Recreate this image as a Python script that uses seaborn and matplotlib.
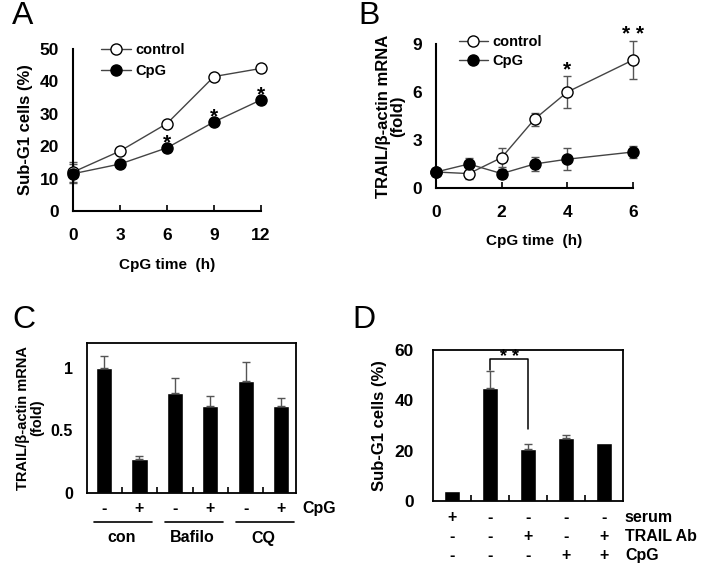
import numpy as np
import pandas as pd
import matplotlib
matplotlib.use("Agg")
import matplotlib.pyplot as plt
import matplotlib.transforms as mtransforms
import seaborn as sns

sns.set_style("white")
plt.rcParams['font.family'] = ['Liberation Sans', 'DejaVu Sans']
plt.rcParams['font.weight'] = 'bold'
plt.rcParams['axes.labelweight'] = 'bold'
for k in ['text.color', 'axes.labelcolor', 'xtick.color', 'ytick.color']:
    plt.rcParams[k] = 'black'

# ---------------- data ----------------
# Panel A
a_time = [0, 3, 6, 9, 12]
a_control = [12.0, 18.5, 27.0, 41.5, 44.0]
a_control_err = [3.0, 0.8, 0.8, 0.8, 1.2]
a_cpg = [11.5, 14.5, 19.5, 27.5, 34.3]
a_cpg_err = [3.0, 0.8, 1.2, 1.0, 1.0]
a_star_times = [6, 9, 12]
a_star_text = ['*', '*', '*']

# Panel B
b_time = [0, 1, 2, 3, 4, 6]
b_control = [1.0, 0.9, 1.9, 4.3, 6.0, 8.0]
b_control_err = [0.1, 0.35, 0.6, 0.4, 1.0, 1.2]
b_cpg = [1.0, 1.5, 0.9, 1.5, 1.8, 2.25]
b_cpg_err = [0.1, 0.4, 0.3, 0.45, 0.7, 0.4]
b_star_times = [4, 6]
b_star_text = ['*', '* *']

# Panel C
c_labels = ['con-', 'con+', 'Bafilo-', 'Bafilo+', 'CQ-', 'CQ+']
c_values = [1.0, 0.27, 0.8, 0.7, 0.9, 0.7]
c_err = [0.1, 0.03, 0.12, 0.08, 0.15, 0.06]
c_cpg_signs = ['-', '+', '-', '+', '-', '+']
c_groups = ['con', 'Bafilo', 'CQ']

# Panel D
d_labels = ['g1', 'g2', 'g3', 'g4', 'g5']
d_values = [4.0, 45.0, 20.5, 25.0, 23.0]
d_err = [0.0, 6.5, 2.0, 1.2, 0.0]
d_serum = ['+', '-', '-', '-', '-']
d_trail = ['-', '-', '+', '-', '+']
d_cpg = ['-', '-', '-', '+', '+']
d_row_names = ['serum', 'TRAIL Ab', 'CpG']

# ---------------- figure ----------------
fig = plt.figure(figsize=(7.08, 5.65), dpi=100)
W, H = 708, 565


def add_ax(x0, x1, y_top, y_bot):
    return fig.add_axes([x0 / W, 1 - y_bot / H, (x1 - x0) / W, (y_bot - y_top) / H])


LINE_C = '#444444'
ERR_C = '#555555'
TICK_FS = 12.5
LAB_FS = 11
YLAB_FS = 12
LEG_FS = 10.5


def line_panel(ax, t, ctrl, ctrl_err, cpg, cpg_err):
    df = pd.DataFrame({'t': t + t,
                       'v': ctrl + cpg,
                       'grp': ['control'] * len(t) + ['CpG'] * len(t)})
    for e_vals, vals in ((ctrl_err, ctrl), (cpg_err, cpg)):
        ax.errorbar(t, vals, yerr=e_vals, fmt='none', ecolor=ERR_C,
                    elinewidth=1, capsize=3, capthick=1, zorder=2, clip_on=False)
    sns.lineplot(data=df[df.grp == 'control'], x='t', y='v', ax=ax, color=LINE_C,
                 lw=1, marker='o', markersize=8, markerfacecolor='white',
                 markeredgecolor='black', markeredgewidth=1, label='control',
                 zorder=3, clip_on=False)
    sns.lineplot(data=df[df.grp == 'CpG'], x='t', y='v', ax=ax, color=LINE_C,
                 lw=1, marker='o', markersize=8, markerfacecolor='black',
                 markeredgecolor='black', markeredgewidth=1, label='CpG',
                 zorder=4, clip_on=False)
    for s in ['top', 'right']:
        ax.spines[s].set_visible(False)
    for s in ['left', 'bottom']:
        ax.spines[s].set_color('black')
        ax.spines[s].set_linewidth(1.5)
    ax.tick_params(axis='x', direction='in', length=4, width=1.2, pad=12,
                   labelsize=TICK_FS, bottom=True)
    ax.tick_params(axis='y', length=0, labelsize=TICK_FS, left=True)


# ---- Panel A ----
axA = add_ax(73, 261, 49, 211)
line_panel(axA, a_time, a_control, a_control_err, a_cpg, a_cpg_err)
axA.set_xlim(0, 12)
axA.set_ylim(0, 50)
axA.set_xticks(a_time)
axA.set_yticks([0, 10, 20, 30, 40, 50])
axA.tick_params(axis='y', pad=10)
axA.set_xlabel('CpG time  (h)', fontsize=LAB_FS, labelpad=11)
axA.set_ylabel('Sub-G1 cells (%)', fontsize=YLAB_FS, labelpad=5)
for tt, txt in zip(a_star_times, a_star_text):
    yv = a_cpg[a_time.index(tt)]
    axA.text(tt, yv - 0.3, txt, ha='center', va='baseline', fontsize=15)
axA.legend(loc='upper left', bbox_to_anchor=(0.12, 1.075), frameon=False,
           fontsize=LEG_FS, handlelength=2.0, handletextpad=0.3,
           labelspacing=0.5, borderaxespad=0)
fig.text(12 / W, 1 - 1 / H, 'A', fontsize=23, fontweight='normal', va='top', ha='left')

# ---- Panel B ----
axB = add_ax(436, 633, 44, 188)
line_panel(axB, b_time, b_control, b_control_err, b_cpg, b_cpg_err)
axB.set_xlim(0, 6)
axB.set_ylim(0, 9)
axB.set_xticks([0, 2, 4, 6])
axB.set_yticks([0, 3, 6, 9])
axB.tick_params(axis='y', pad=10)
axB.set_xlabel('CpG time  (h)', fontsize=LAB_FS, labelpad=10)
axB.set_ylabel('TRAIL/β-actin mRNA\n(fold)', fontsize=YLAB_FS, labelpad=5,
               linespacing=1.0)
for tt, txt in zip(b_star_times, b_star_text):
    i = b_time.index(tt)
    yv = b_control[i] + b_control_err[i]
    axB.text(tt, yv + 0.05, txt, ha='center', va='baseline', fontsize=15)
axB.legend(loc='upper left', bbox_to_anchor=(0.085, 1.1), frameon=False,
           fontsize=LEG_FS, handlelength=2.0, handletextpad=0.3,
           labelspacing=0.3, borderaxespad=0)
fig.text(358 / W, 1 - 1 / H, 'B', fontsize=23, fontweight='normal', va='top', ha='left')


def bar_panel(ax, labels, vals, errs, width):
    df = pd.DataFrame({'cat': labels, 'v': vals})
    sns.barplot(data=df, x='cat', y='v', ax=ax, color='black', width=width,
                saturation=1, errorbar=None, order=labels)
    x = np.arange(len(labels))
    e = np.array(errs)
    mask = e > 0
    ax.errorbar(x[mask], np.array(vals)[mask], yerr=[np.zeros(mask.sum()), e[mask]],
                fmt='none', ecolor=ERR_C, elinewidth=1, capsize=3, capthick=1, zorder=1)
    for s in ax.spines.values():
        s.set_visible(True)
        s.set_color('black')
        s.set_linewidth(1.3)
    ax.set_xticks([])
    ax.set_xticks(np.arange(len(labels) - 1) + 0.5, minor=True)
    ax.tick_params(axis='x', which='minor', direction='in', length=4, width=1.2,
                   bottom=True)
    ax.tick_params(axis='y', length=0, labelsize=11.5)
    ax.set_xlabel('')


# ---- Panel C ----
axC = add_ax(87, 296, 343, 493)
bar_panel(axC, c_labels, c_values, c_err, 0.46)
axC.set_xlim(-0.48, 5.42)
axC.set_ylim(0, 1.2)
axC.set_yticks([0, 0.5, 1])
axC.set_yticklabels(['0', '0.5', '1'])
axC.tick_params(axis='y', pad=10)
axC.set_ylabel('TRAIL/β-actin mRNA\n(fold)', fontsize=10.5, labelpad=5, linespacing=1.0)
transC = mtransforms.blended_transform_factory(axC.transData, axC.transAxes)
for i, s in enumerate(c_cpg_signs):
    axC.text(i, -0.1, s, transform=transC, ha='center', va='center', fontsize=11.5)
axC.text(1.03, -0.1, 'CpG', transform=axC.transAxes, ha='left', va='center',
         fontsize=11.5)
for g, name in enumerate(c_groups):
    x0, x1 = 2 * g - 0.28, 2 * g + 1.35
    axC.plot([x0, x1], [-0.19, -0.19], transform=transC, color='black', lw=1.2,
             clip_on=False)
    axC.text(2 * g + 0.5, -0.3, name, transform=transC, ha='center', va='center',
             fontsize=11.5)
fig.text(12 / W, 1 - 305 / H, 'C', fontsize=23, fontweight='normal', va='top', ha='left')

# ---- Panel D ----
axD = add_ax(433, 623, 350, 501)
bar_panel(axD, d_labels, d_values, d_err, 0.4)
axD.set_xlim(-0.5, 4.5)
axD.set_ylim(0, 60)
axD.set_yticks([0, 20, 40, 60])
axD.tick_params(axis='y', pad=14, labelsize=12.5)
axD.set_ylabel('Sub-G1 cells (%)', fontsize=12, labelpad=5)
# significance bracket
y_top = 56.5
axD.plot([1, 1, 2, 2], [d_values[1] + d_err[1] + 0.5, y_top, y_top, d_values[2] + 8],
         color='black', lw=1.1, clip_on=False)
axD.text(1.5, 55.2, '* *', ha='center', va='baseline', fontsize=13)
transD = mtransforms.blended_transform_factory(axD.transData, axD.transAxes)
rows = [d_serum, d_trail, d_cpg]
row_y = [-0.11, -0.235, -0.36]
for r, (signs, yy) in enumerate(zip(rows, row_y)):
    for i, s in enumerate(signs):
        axD.text(i, yy, s, transform=transD, ha='center', va='center', fontsize=11.5)
    axD.text(1.01, yy, d_row_names[r], transform=axD.transAxes, ha='left', va='center',
             fontsize=11.5)
fig.text(352 / W, 1 - 305 / H, 'D', fontsize=23, fontweight='normal', va='top', ha='left')

fig.savefig('out.png', dpi=100, facecolor='white')
